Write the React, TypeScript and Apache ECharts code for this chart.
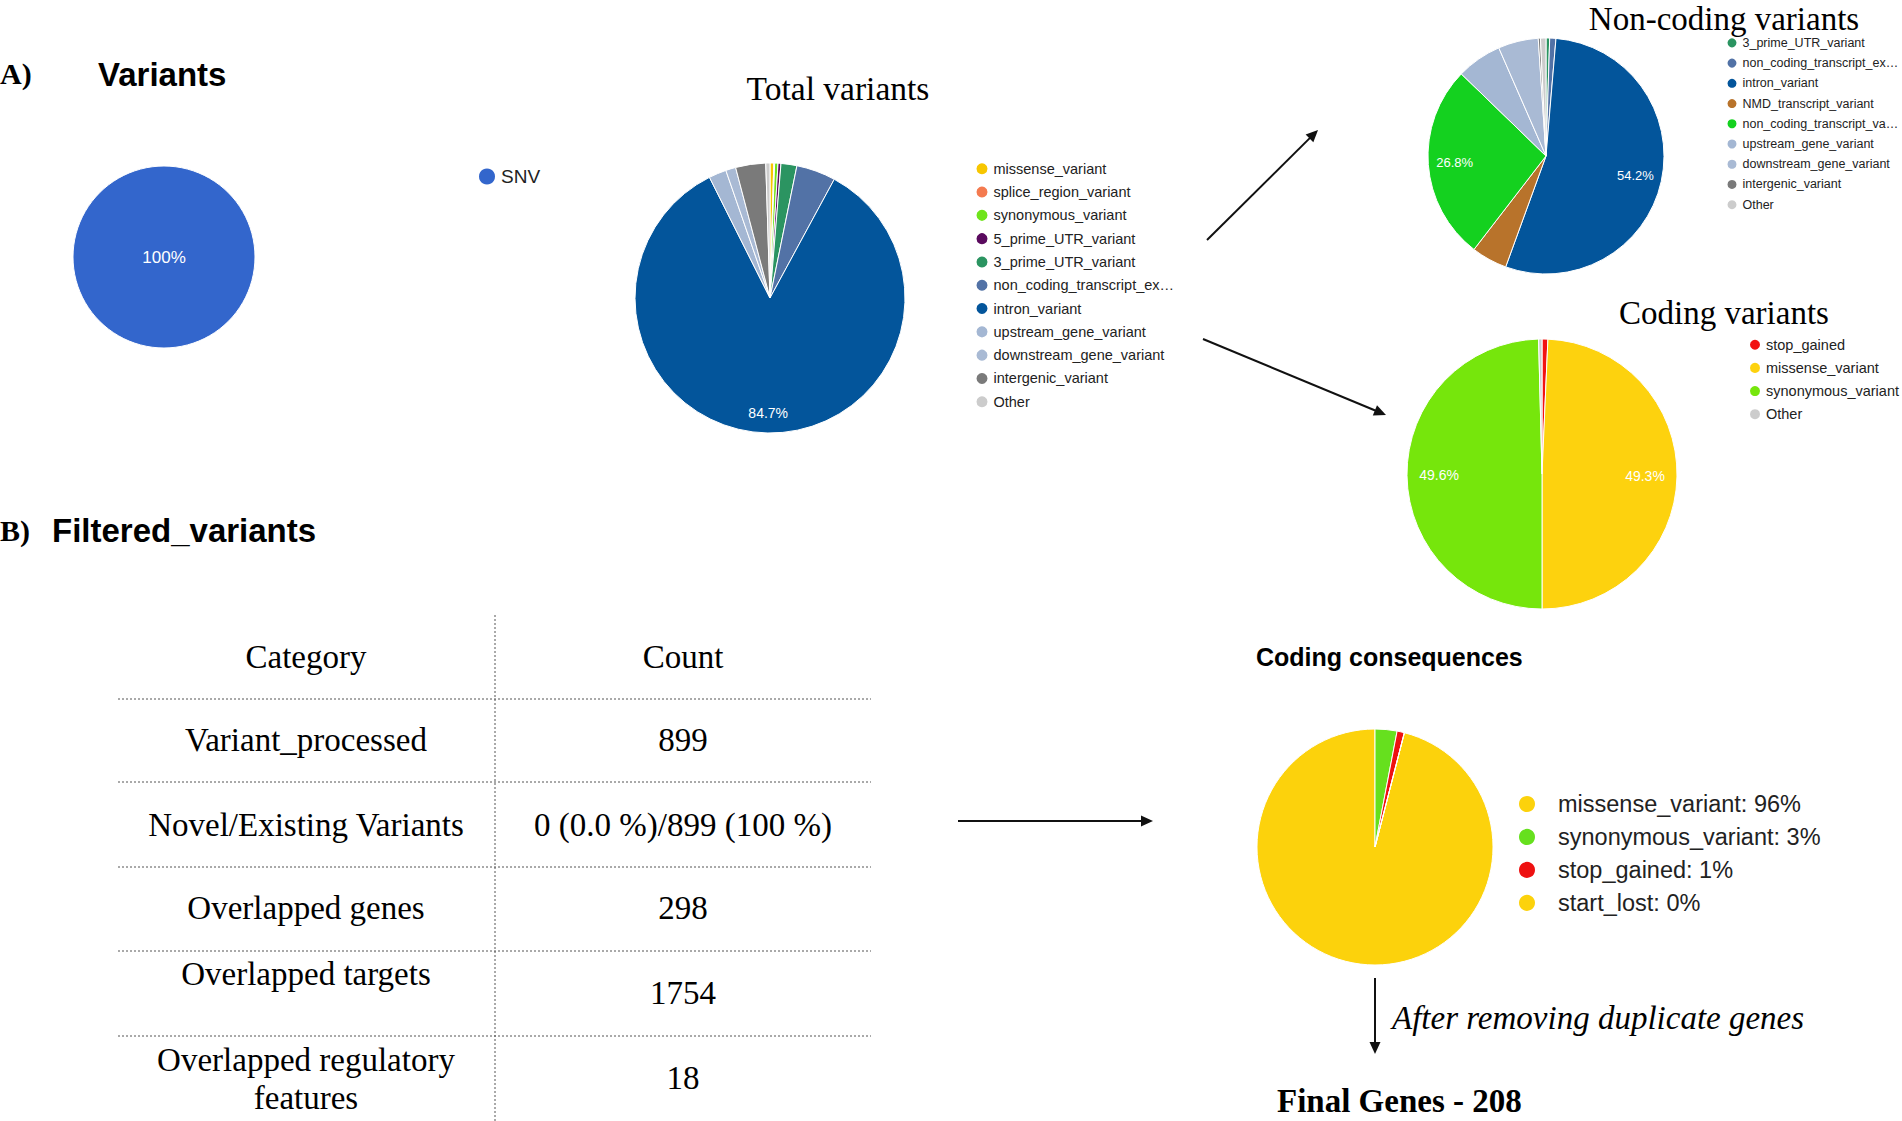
import React, { useEffect, useRef } from "react";
import * as echarts from "echarts";

// ---------- data ----------
const snvNames = ["SNV"];
const snvValues = [100];
const snvColors = ["#3366cc"];

const totalNames = [
  "missense_variant",
  "splice_region_variant",
  "synonymous_variant",
  "5_prime_UTR_variant",
  "3_prime_UTR_variant",
  "non_coding_transcript_exon_variant",
  "intron_variant",
  "upstream_gene_variant",
  "downstream_gene_variant",
  "intergenic_variant",
  "Other",
];
const totalValues = [0.45, 0.1, 0.4, 0.35, 1.9, 4.7, 84.7, 2.1, 1.2, 3.6, 0.5];
const totalColors = [
  "#f7c600", "#f47a4f", "#6fe41b", "#5a0a5e", "#2b9461", "#5272a6",
  "#03559b", "#a4b7d3", "#a9bad4", "#7a7a7a", "#cccccc",
];

const nonCodingNames = [
  "3_prime_UTR_variant",
  "non_coding_transcript_exon_variant",
  "intron_variant",
  "NMD_transcript_variant",
  "non_coding_transcript_variant",
  "upstream_gene_variant",
  "downstream_gene_variant",
  "intergenic_variant",
  "Other",
];
const nonCodingValues = [0.5, 0.85, 54.2, 4.9, 26.8, 6.2, 5.5, 0.3, 0.75];
const nonCodingColors = [
  "#2b9461", "#5272a6", "#03559b", "#b8732b", "#14d11f",
  "#a4b7d3", "#a9bad4", "#7a7a7a", "#cccccc",
];

const codingNames = ["stop_gained", "missense_variant", "synonymous_variant", "Other"];
const codingValues = [0.7, 49.3, 49.6, 0.4];
const codingColors = ["#f21212", "#fdd20e", "#76e60c", "#cccccc"];

const consequenceNames = ["missense_variant", "synonymous_variant", "stop_gained", "start_lost"];
const consequenceValues = [96, 3, 1, 0];
const consequenceColors = ["#fcd20c", "#66e01e", "#ee1111", "#fcd20c"];

const tableHeader = ["Category", "Count"];
const tableCategories = [
  "Variant_processed",
  "Novel/Existing Variants",
  "Overlapped genes",
  "Overlapped targets",
  "Overlapped regulatory\nfeatures",
];
const tableCounts = ["899", "0 (0.0 %)/899 (100 %)", "298", "1754", "18"];

// ---------- helpers ----------
const SERIF = '"Liberation Serif", "Times New Roman", serif';
const SANS = '"Liberation Sans", Arial, Helvetica, sans-serif';

let measureCtx: CanvasRenderingContext2D | null = null;
function fitText(text: string, font: string, maxW: number) {
  if (!measureCtx) measureCtx = document.createElement("canvas").getContext("2d");
  if (!measureCtx) return text;
  measureCtx.font = font;
  if (measureCtx.measureText(text).width <= maxW) return text;
  let s = text;
  while (s.length > 1 && measureCtx.measureText(s + "…").width > maxW) s = s.slice(0, -1);
  return s + "…";
}

function pieData(names: string[], values: number[], colors?: string[]) {
  return names.map((n, i) => ({
    name: n,
    value: values[i],
    itemStyle: colors ? { color: colors[i] } : undefined,
  }));
}

function pieSeries(names: string[], values: number[], colors: string[], center: number[], radius: number, startAngle = 90) {
  return {
    type: "pie",
    center,
    radius: [0, radius],
    startAngle,
    clockwise: true,
    silent: true,
    avoidLabelOverlap: false,
    data: pieData(names, values, colors),
    label: { show: false },
    labelLine: { show: false },
    itemStyle: { borderColor: "#ffffff", borderWidth: 1 },
    emphasis: { disabled: true },
  };
}

function labelRing(names: string[], values: number[], center: number[], inner: number, outer: number, fontSize: number, startAngle = 90) {
  return {
    type: "pie",
    center,
    radius: [inner, outer],
    startAngle,
    clockwise: true,
    silent: true,
    avoidLabelOverlap: false,
    data: pieData(names, values),
    itemStyle: { color: "rgba(0,0,0,0)", borderWidth: 0 },
    label: {
      show: true,
      position: "inside",
      color: "#ffffff",
      fontSize,
      fontFamily: SANS,
      formatter: (p: any) => (p.percent >= 10 ? p.percent.toFixed(1) + "%" : ""),
    },
    labelLine: { show: false },
    emphasis: { disabled: true },
  };
}

function legend(names: string[], colors: string[], opts: any) {
  return {
    orient: "vertical",
    icon: "circle",
    selectedMode: false,
    symbolKeepAspect: true,
    padding: 0,
    data: names.map((n, i) => ({ name: n, itemStyle: { color: colors[i] } })),
    ...opts,
  };
}

function arrow(x1: number, y1: number, x2: number, y2: number) {
  const dx = x2 - x1;
  const dy = y2 - y1;
  const len = Math.sqrt(dx * dx + dy * dy);
  const ux = dx / len;
  const uy = dy / len;
  const nx = -uy;
  const ny = ux;
  const L = 12;
  const W = 5.5;
  const bx = x2 - ux * L;
  const by = y2 - uy * L;
  return [
    {
      type: "line",
      shape: { x1, y1, x2: x2 - ux * L * 0.7, y2: y2 - uy * L * 0.7 },
      style: { stroke: "#111", lineWidth: 2 },
      silent: true,
    },
    {
      type: "polygon",
      shape: { points: [[x2, y2], [bx + nx * W, by + ny * W], [bx - nx * W, by - ny * W]] },
      style: { fill: "#111" },
      silent: true,
    },
  ];
}

function txt(text: string, x: number, y: number, font: string, align = "left", extra: any = {}) {
  return {
    type: "text",
    x,
    y,
    silent: true,
    style: { text, font, fill: "#000", align, verticalAlign: "middle", ...extra },
  };
}

function dotted(x1: number, y1: number, x2: number, y2: number) {
  return {
    type: "line",
    shape: { x1, y1, x2, y2 },
    style: { stroke: "#555", lineWidth: 1, lineDash: [2, 2] },
    silent: true,
  };
}

export default function App() {
  const ref = useRef<HTMLDivElement>(null);

  useEffect(() => {
    if (!ref.current) return;
    const chart = echarts.init(ref.current, undefined, { renderer: "svg" });

    const consTotal = consequenceValues.reduce((a, b) => a + b, 0);
    const consStart = 90 - ((consequenceValues[1] + consequenceValues[2] + consequenceValues[3]) / consTotal) * 360;

    // table graphics
    const tableLeftX = 306;
    const tableRightX = 683;
    const rowY = [740, 825, 908, 974, 1079];
    const countY = [740, 825, 908, 993, 1078];
    const hLines = [699, 782, 867, 951, 1036];
    const tableFont = `33px ${SERIF}`;
    const tableGraphics: any[] = [
      dotted(495, 615, 495, 1121),
      ...hLines.map((y) => dotted(118, y, 871, y)),
      txt(tableHeader[0], tableLeftX, 657, tableFont, "center"),
      txt(tableHeader[1], tableRightX, 657, tableFont, "center"),
      ...tableCategories.map((c, i) => txt(c, tableLeftX, rowY[i], tableFont, "center", { lineHeight: 38 })),
      ...tableCounts.map((c, i) => txt(c, tableRightX, countY[i], tableFont, "center")),
    ];

    const totalFont = `14.5px "Liberation Sans"`;
    const nonCodingFont = `12.5px "Liberation Sans"`;

    const option: any = {
      animation: false,
      backgroundColor: "#ffffff",
      legend: [
        legend(snvNames, snvColors, {
          left: 477, top: 166.5, itemWidth: 18, itemHeight: 18, itemGap: 10,
          textStyle: { fontSize: 19, lineHeight: 19, fontFamily: SANS, color: "#222" },
        }),
        legend(totalNames, totalColors, {
          left: 974.5, top: 161.25, itemWidth: 13, itemHeight: 13, itemGap: 8.3,
          textStyle: { fontSize: 14.5, lineHeight: 14.5, fontFamily: SANS, color: "#222" },
          formatter: (name: string) => fitText(name, totalFont, 182),
        }),
        legend(nonCodingNames, nonCodingColors, {
          left: 1725.5, top: 36.35, itemWidth: 11, itemHeight: 11, itemGap: 7.23,
          textStyle: { fontSize: 12.5, lineHeight: 12.5, fontFamily: SANS, color: "#222" },
          formatter: (name: string) => fitText(name, nonCodingFont, 156),
        }),
        legend(codingNames, codingColors, {
          left: 1748, top: 337.25, itemWidth: 12, itemHeight: 12, itemGap: 8.15,
          textStyle: { fontSize: 14.5, lineHeight: 14.5, fontFamily: SANS, color: "#222" },
        }),
        legend(consequenceNames, consequenceColors, {
          left: 1517, top: 792, itemWidth: 52, itemHeight: 18, itemGap: 8.95,
          textStyle: { fontSize: 23.5, lineHeight: 23.5, fontFamily: SANS, color: "#222" },
          formatter: (name: string) => {
            const i = consequenceNames.indexOf(name);
            return `${name}: ${Math.round((consequenceValues[i] / consTotal) * 100)}%`;
          },
        }),
      ],
      series: [
        {
          ...pieSeries(snvNames, snvValues, snvColors, [164, 257], 91),
          label: {
            show: true,
            position: "center",
            color: "#ffffff",
            fontSize: 17,
            fontFamily: SANS,
            formatter: (p: any) => Math.round(p.percent) + "%",
          },
        },
        pieSeries(totalNames, totalValues, totalColors, [770, 298], 135),
        labelRing(totalNames, totalValues, [770, 298], 90, 135, 14),
        pieSeries(nonCodingNames, nonCodingValues, nonCodingColors, [1546, 156], 118),
        labelRing(nonCodingNames, nonCodingValues, [1546, 156], 59, 118, 13),
        pieSeries(codingNames, codingValues, codingColors, [1542, 474], 135),
        labelRing(codingNames, codingValues, [1542, 474], 65, 135, 14),
        pieSeries(consequenceNames, consequenceValues, consequenceColors, [1375, 847], 118, consStart),
      ],
      graphic: [
        txt("A)", 0, 73, `bold 30px ${SERIF}`),
        txt("Variants", 98, 74, `bold 33px ${SANS}`),
        txt("Total variants", 838, 88, `33.5px ${SERIF}`, "center"),
        txt("Non-coding variants", 1724, 19, `33px ${SERIF}`, "center"),
        txt("Coding variants", 1724, 313, `33px ${SERIF}`, "center"),
        txt("B)", 0, 530, `bold 30px ${SERIF}`),
        txt("Filtered_variants", 52, 530, `bold 33px ${SANS}`),
        txt("Coding consequences", 1256, 657, `bold 25px ${SANS}`),
        txt("After removing duplicate genes", 1392, 1018, `italic 33px ${SERIF}`),
        txt("Final Genes - 208", 1277, 1101, `bold 33px ${SERIF}`),
        ...arrow(1207, 240, 1318, 130),
        ...arrow(1203, 339, 1386, 415),
        ...arrow(958, 821, 1153, 821),
        ...arrow(1375, 978, 1375, 1054),
        ...tableGraphics,
      ],
    };

    chart.setOption(option);
    return () => {
      chart.dispose();
    };
  }, []);

  return (
    <div
      ref={ref}
      style={{ position: "fixed", left: 0, top: 0, width: 1902, height: 1121, background: "#fff" }}
    />
  );
}
